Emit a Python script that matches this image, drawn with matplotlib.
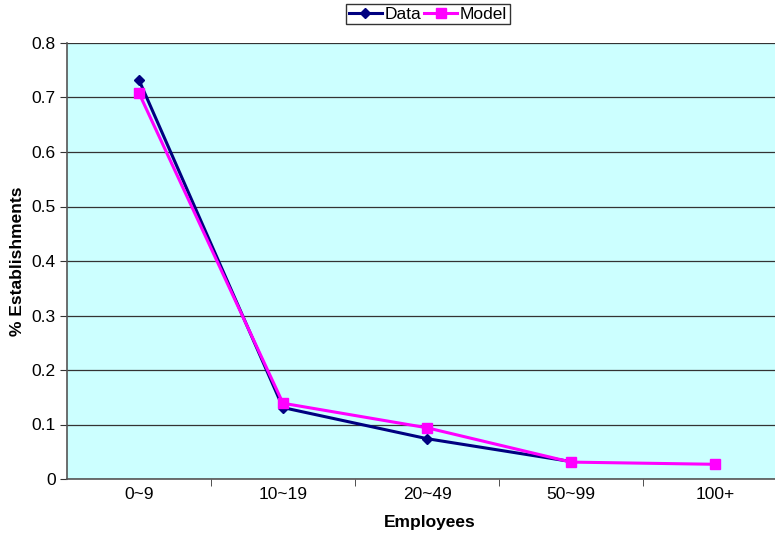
import matplotlib
matplotlib.use("Agg")
import matplotlib.pyplot as plt
import numpy as np

plt.rcParams["font.family"] = ["Liberation Sans", "DejaVu Sans"]

categories = ["0~9", "10~19", "20~49", "50~99", "100+"]
data_share = [0.732, 0.131, 0.074, 0.032]
model_share = [0.708, 0.139, 0.094, 0.031, 0.027]

W, H = 775, 536
fig = plt.figure(figsize=(W / 100, H / 100), dpi=100)
# plot area runs a little past the right edge of the canvas
ax = fig.add_axes([67 / W, (H - 479) / H, 720 / W, (479 - 43) / H])
ax.set_facecolor("#CCFFFF")

x = np.arange(len(categories))
ax.plot(x[:len(data_share)], data_share, color="#000080", lw=2.2,
        marker="D", ms=5, label="Data", zorder=3)
ax.plot(x, model_share, color="#FF00FF", lw=2.2,
        marker="s", ms=7, label="Model", zorder=4)

ax.set_xlim(-0.5, len(categories) - 0.5)
ax.set_ylim(0, 0.8)
ax.set_yticks(np.arange(0, 0.81, 0.1))
ax.set_yticklabels(["0"] + [f"{v:.1f}" for v in np.arange(0.1, 0.81, 0.1)])
ax.set_xticks(x)
ax.set_xticklabels(categories)
ax.set_xticks(np.arange(0.5, len(categories) - 0.5, 1), minor=True)
ax.tick_params(axis="x", which="major", length=0, pad=6, labelsize=12.5)
ax.tick_params(axis="x", which="minor", length=5, color="#333333")
ax.tick_params(axis="y", length=5, color="#333333", labelsize=12.5, pad=3)
ax.yaxis.grid(True, color="#333333", lw=0.9)
ax.set_axisbelow(True)

for side in ("top", "right"):
    ax.spines[side].set_visible(False)
for side in ("left", "bottom"):
    ax.spines[side].set_color("#555555")
    ax.spines[side].set_linewidth(1.2)

ax.set_xlabel("Employees", fontsize=12.5, fontweight="bold")
ax.set_ylabel("% Establishments", fontsize=12.5, fontweight="bold")
ax.xaxis.set_label_coords(0.504, -0.083)
ax.yaxis.set_label_coords(-0.058, 0.5)

leg = fig.legend(loc="center", bbox_to_anchor=(428 / W, 1 - 14 / H), ncol=2,
                 frameon=True, fancybox=False, edgecolor="black",
                 fontsize=12.5, handlelength=1.9, handletextpad=0.15,
                 columnspacing=0.2, borderpad=0.15, borderaxespad=0)
leg.get_frame().set_linewidth(1.0)

fig.savefig("out.png", dpi=100)
